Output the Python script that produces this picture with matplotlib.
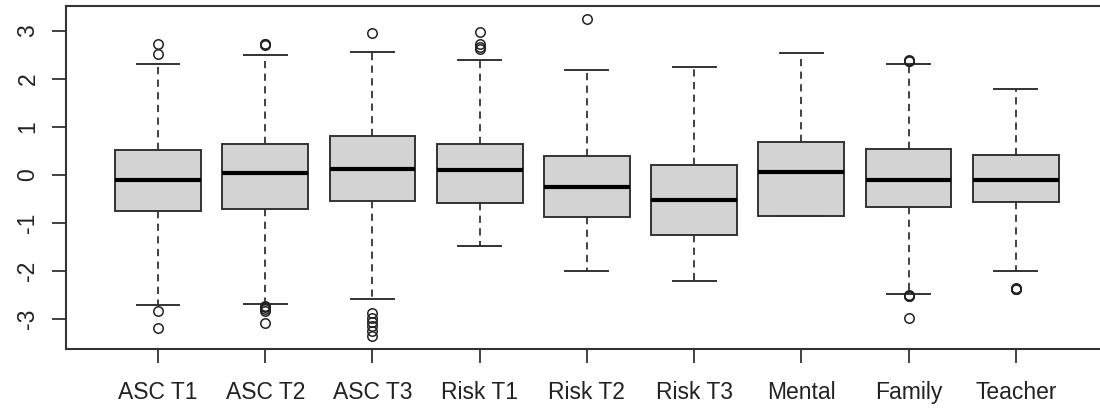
import numpy as np
import matplotlib
matplotlib.use("Agg")
import matplotlib.pyplot as plt

plt.rcParams['font.family'] = ['Liberation Sans', 'DejaVu Sans']

# values (box statistics per group)
labels = ["ASC T1", "ASC T2", "ASC T3", "Risk T1", "Risk T2", "Risk T3", "Mental", "Family", "Teacher"]
medians = [-0.10, 0.035, 0.13, 0.10, -0.26, -0.53, 0.06, -0.11, -0.11]
q1 = [-0.76, -0.70, -0.55, -0.59, -0.875, -1.25, -0.85, -0.67, -0.57]
q3 = [0.53, 0.64, 0.82, 0.65, 0.40, 0.21, 0.68, 0.54, 0.42]
whislo = [-2.71, -2.69, -2.59, -1.47, -2.01, -2.20, -0.85, -2.48, -1.99]
whishi = [2.31, 2.51, 2.57, 2.40, 2.18, 2.24, 2.54, 2.31, 1.79]
fliers = [
    [2.72, 2.52, -2.83, -3.19],
    [2.71, 2.72, 2.73, -2.73, -2.76, -2.79, -2.83, -3.09],
    [2.95, -2.88, -2.97, -3.06, -3.15, -3.25, -3.35],
    [2.97, 2.72, 2.66, 2.62],
    [3.25],
    [],
    [],
    [2.38, 2.38, 2.39, -2.51, -2.52, -2.53, -2.97],
    [-2.36, -2.37, -2.37, -2.38],
]

stats = []
for i in range(len(labels)):
    stats.append(dict(med=medians[i], q1=q1[i], q3=q3[i],
                      whislo=whislo[i], whishi=whishi[i],
                      fliers=np.array(fliers[i]), label=labels[i]))

W, H = 1100, 409
fig = plt.figure(figsize=(W / 100, H / 100), dpi=100)
# plot region runs past the right edge of the image, as in the reference
x0, x1 = 65.8, 1108
y0, y1 = 349, 6
ax = fig.add_axes([x0 / W, (H - y0) / H, (x1 - x0) / W, (y0 - y1) / H])

edge = '#333333'
pos = np.arange(1, len(labels) + 1)
ax.bxp(stats, positions=pos, widths=0.8, capwidths=0.4, patch_artist=True,
       boxprops=dict(facecolor='#D3D3D3', edgecolor=edge, linewidth=1.4),
       medianprops=dict(color='black', linewidth=3.0, solid_capstyle='butt'),
       whiskerprops=dict(color=edge, linewidth=1.3, linestyle=(0, (4, 3))),
       capprops=dict(color=edge, linewidth=1.4),
       flierprops=dict(marker='o', markerfacecolor='none', markeredgecolor='#222222',
                       markersize=6.8, markeredgewidth=1.1, linestyle='none'))

ax.set_xlim(0.14, 9.86)
ax.set_ylim(-3.625, 3.521)
ax.set_xticks(pos)
ax.set_xticklabels(labels)
ax.set_yticks([-3, -2, -1, 0, 1, 2, 3])
ax.set_yticklabels(['-3', '-2', '-1', '0', '1', '2', '3'])

for s in ax.spines.values():
    s.set_color(edge)
    s.set_linewidth(1.5)

ax.tick_params(axis='both', length=10, width=1.3, color=edge, labelsize=16.5, labelcolor='#222222')
ax.tick_params(axis='x', pad=13)
ax.tick_params(axis='y', pad=9, labelrotation=90)
for t in ax.get_yticklabels():
    t.set_va('center')

fig.savefig('out.png', dpi=100)
